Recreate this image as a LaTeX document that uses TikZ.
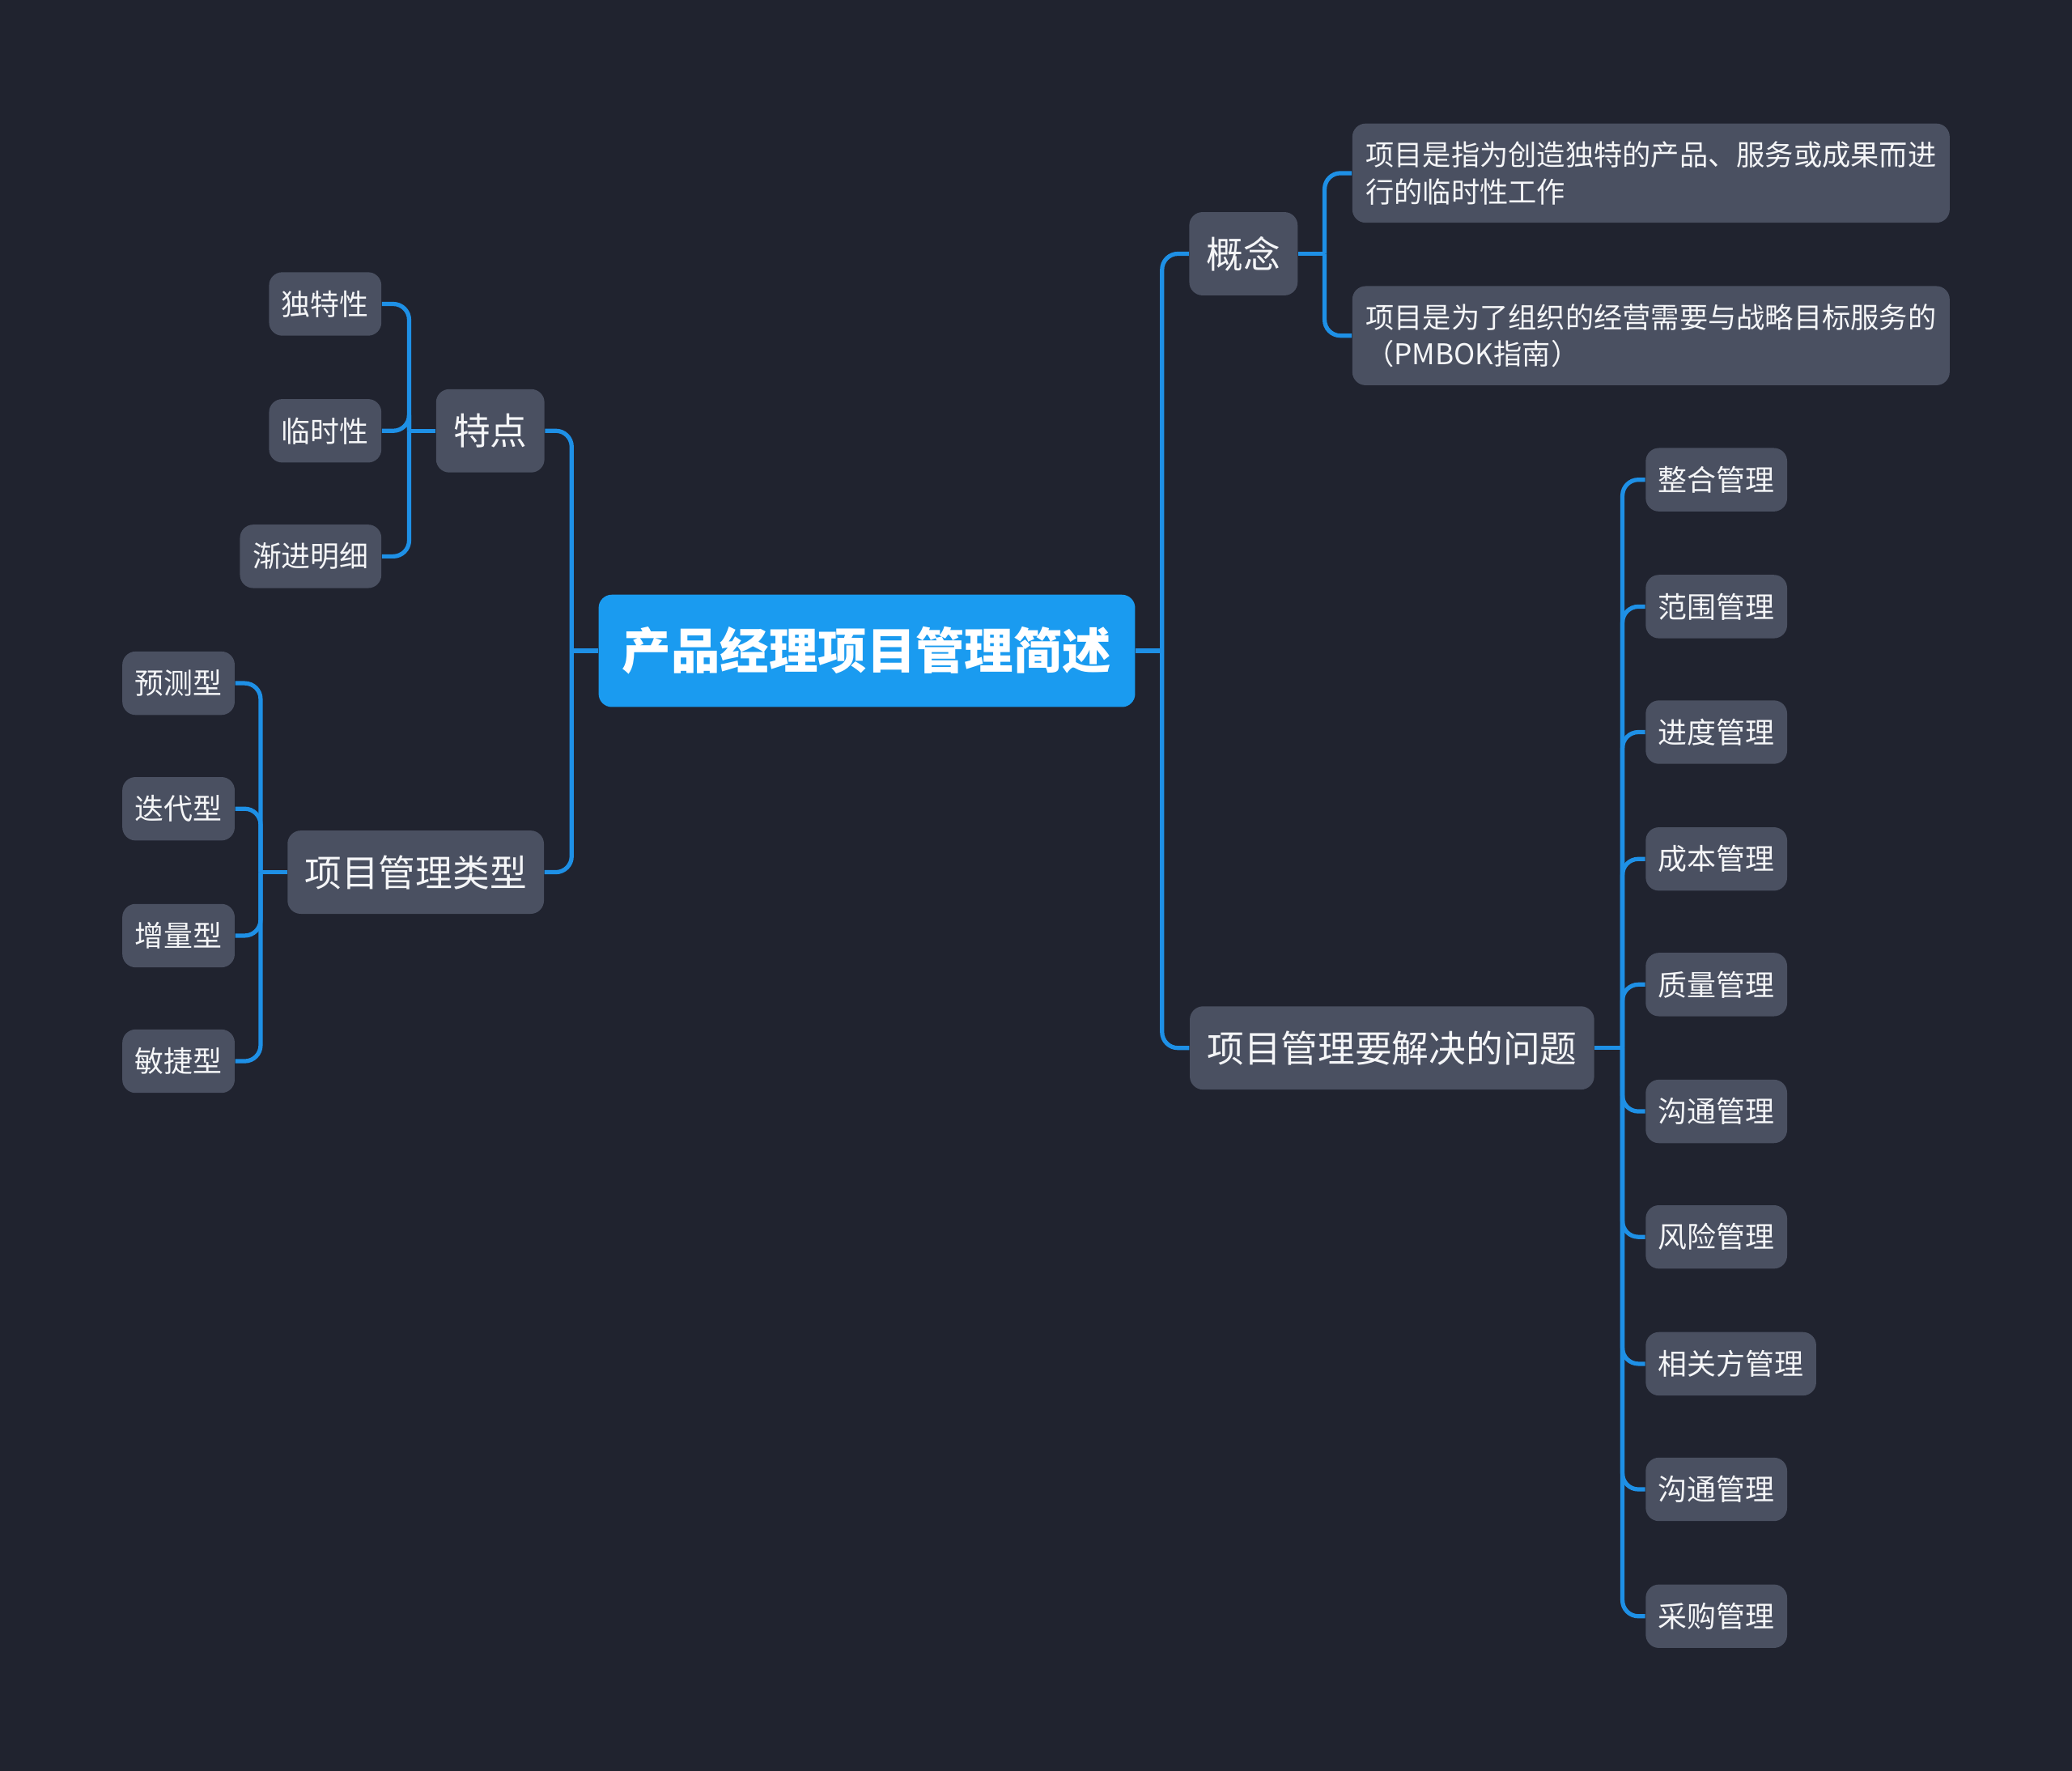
\documentclass[tikz,border=0pt]{standalone}
\usepackage{fontspec}
\setmainfont{Noto Sans CJK SC}
\usetikzlibrary{calc}
\definecolor{bg}{HTML}{20232F}
\definecolor{nodefill}{HTML}{4A5061}
\definecolor{linec}{HTML}{1E90E6}
\definecolor{mainfill}{HTML}{1A9BF0}
\definecolor{txt}{HTML}{F4F5F7}
\begin{document}
\begin{tikzpicture}[x=0.5pt,y=-0.5pt,
  base/.style={fill=nodefill, rounded corners=5pt, text=txt, inner ysep=0pt},
  leaf/.style={base, font=\fontsize{11}{13}\selectfont, minimum height=24pt, inner xsep=4.75pt},
  longleaf/.style={base, font=\fontsize{10.8}{14}\selectfont, align=left, minimum height=37.5pt, minimum width=226pt, inner xsep=5pt},
  sub/.style={base, font=\fontsize{14}{16}\selectfont, minimum height=31.5pt, inner xsep=6.5pt},
  rootstyle/.style={fill=mainfill, rounded corners=5pt, text=white, font=\fontsize{18.5}{20}\selectfont\bfseries, minimum width=203pt, minimum height=42.5pt, inner sep=0pt},
  conn/.style={draw=linec, line width=1.6pt, rounded corners=6pt},
  ]
\fill[bg] (0,0) rectangle (1568,1340);
\useasboundingbox (0,0) rectangle (1568,1340);

% root
\node[rootstyle] (root) at (656,492.5) {产品经理项目管理简述};

% level 2
\node[sub] (tedian) at (371,326) {特点};
\node[sub, anchor=east] (leixing) at (412,660) {项目管理类型};
\node[sub] (gainian) at (941,192) {概念};
\node[sub, anchor=west] (wenti) at (900,793) {项目管理要解决的问题};

% features
\node[leaf, anchor=east] (f1) at (289,230) {独特性};
\node[leaf, anchor=east] (f2) at (289,326) {临时性};
\node[leaf, anchor=east] (f3) at (289,421) {渐进明细};

% types
\node[leaf, anchor=east] (t1) at (178,517) {预测型};
\node[leaf, anchor=east] (t2) at (178,612) {迭代型};
\node[leaf, anchor=east] (t3) at (178,708) {增量型};
\node[leaf, anchor=east] (t4) at (178,803) {敏捷型};

% concept
\node[longleaf, anchor=west] (c1) at (1023,131) {项目是指为创造独特的产品、服务或成果而进\\行的临时性工作};
\node[longleaf, anchor=west] (c2) at (1023,254) {项目是为了组织的经营需要与战略目标服务的\\（PMBOK指南）};

% problems
\node[leaf, anchor=west] (p1) at (1245,363) {整合管理};
\node[leaf, anchor=west] (p2) at (1245,459) {范围管理};
\node[leaf, anchor=west] (p3) at (1245,554) {进度管理};
\node[leaf, anchor=west] (p4) at (1245,650) {成本管理};
\node[leaf, anchor=west] (p5) at (1245,745) {质量管理};
\node[leaf, anchor=west] (p6) at (1245,841) {沟通管理};
\node[leaf, anchor=west] (p7) at (1245,936) {风险管理};
\node[leaf, anchor=west] (p8) at (1245,1032) {相关方管理};
\node[leaf, anchor=west] (p9) at (1245,1127) {沟通管理};
\node[leaf, anchor=west] (p10) at (1245,1223) {采购管理};

% junctions
\coordinate (jR) at ($(root.east)+(20,0)$);
\coordinate (jL) at ($(root.west)+(-20,0)$);
\coordinate (jT) at ($(tedian.west)+(-20,0)$);
\coordinate (jX) at ($(leixing.west)+(-20,0)$);
\coordinate (jG) at ($(gainian.east)+(20,0)$);
\coordinate (jW) at ($(wenti.east)+(21,0)$);

% connectors
\draw[conn] (root.east) -- (jR);
\draw[conn] (jR) |- (gainian.west);
\draw[conn] (jR) |- (wenti.west);
\draw[conn] (root.west) -- (jL);
\draw[conn] (jL) |- (tedian.east);
\draw[conn] (jL) |- (leixing.east);

\draw[conn] (tedian.west) -- (jT);
\foreach \n in {f1,f2,f3} \draw[conn] (jT) |- (\n.east);

\draw[conn] (leixing.west) -- (jX);
\foreach \n in {t1,t2,t3,t4} \draw[conn] (jX) |- (\n.east);

\draw[conn] (gainian.east) -- (jG);
\foreach \n in {c1,c2} \draw[conn] (jG) |- (\n.west);

\draw[conn] (wenti.east) -- (jW);
\foreach \n in {p1,p2,p3,p4,p5,p6,p7,p8,p9,p10} \draw[conn] (jW) |- (\n.west);
\end{tikzpicture}
\end{document}
